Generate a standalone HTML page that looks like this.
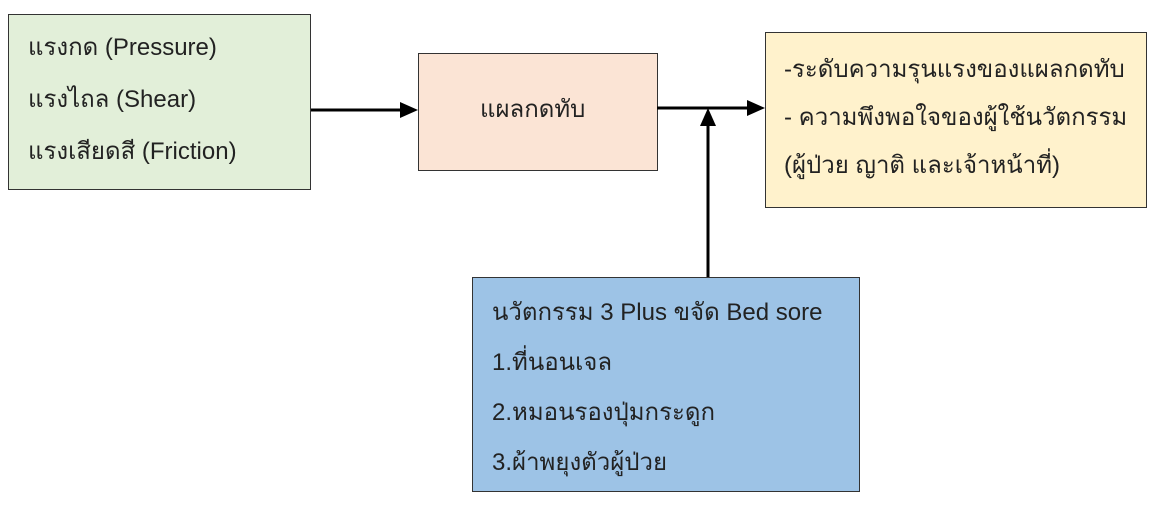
<!DOCTYPE html>
<html><head><meta charset="utf-8"><style>
body{margin:0;width:1162px;height:508px;background:#fff;position:relative;overflow:hidden;font-family:"Liberation Sans","DejaVu Sans",sans-serif;font-size:24px;color:#222}
.b{position:absolute;border:1px solid #333;box-sizing:border-box}
.t{position:absolute;white-space:nowrap;line-height:26px}
</style></head><body>
<div class="b" style="left:8px;top:14px;width:303px;height:176px;background:#e2efd9"></div>
<div class="b" style="left:418px;top:53px;width:240px;height:118px;background:#fbe4d5"></div>
<div class="b" style="left:765px;top:32px;width:382px;height:176px;background:#fff2cc"></div>
<div class="b" style="left:472px;top:277px;width:388px;height:215px;background:#9dc3e6"></div>
<div class="t" style="left:28px;top:35px">แรงกด (Pressure)</div>
<div class="t" style="left:28px;top:87px">แรงไถล (Shear)</div>
<div class="t" style="left:28px;top:139px">แรงเสียดสี (Friction)</div>
<div class="t" style="left:480px;top:97px">แผลกดทับ</div>
<div class="t" style="left:784px;top:57px">-ระดับความรุนแรงของแผลกดทับ</div>
<div class="t" style="left:784px;top:105px">- ความพึงพอใจของผู้ใช้นวัตกรรม</div>
<div class="t" style="left:784px;top:153px">(ผู้ป่วย ญาติ และเจ้าหน้าที่)</div>
<div class="t" style="left:492px;top:300px">นวัตกรรม 3 Plus ขจัด Bed sore</div>
<div class="t" style="left:492px;top:350px">1.ที่นอนเจล</div>
<div class="t" style="left:492px;top:400px">2.หมอนรองปุ่มกระดูก</div>
<div class="t" style="left:492px;top:450px">3.ผ้าพยุงตัวผู้ป่วย</div>
<svg width="1162" height="508" style="position:absolute;left:0;top:0">
<g stroke="#000" stroke-width="3" fill="#000">
<line x1="311" y1="110" x2="402" y2="110"/>
<polygon points="400,102 418,110 400,118" stroke="none"/>
<line x1="657" y1="108" x2="749" y2="108"/>
<polygon points="747,100 765,108 747,116" stroke="none"/>
<line x1="708" y1="277" x2="708" y2="124"/>
<polygon points="700,126 708,108 716,126" stroke="none"/>
</g></svg>
</body></html>
